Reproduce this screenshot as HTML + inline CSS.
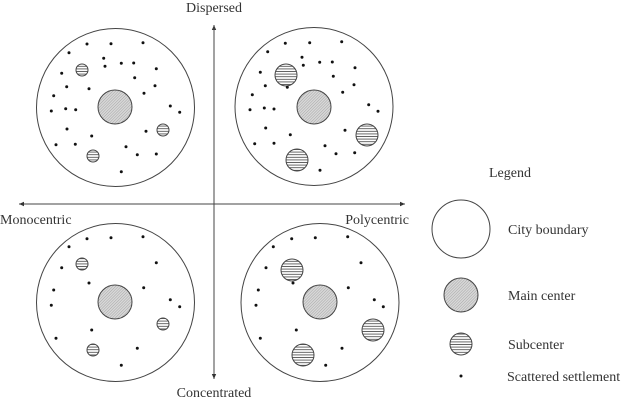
<!DOCTYPE html>
<html><head><meta charset="utf-8"><style>
html,body{margin:0;padding:0;background:#fff;}
svg{display:block;}
text{font-family:"Liberation Serif",serif;font-size:14px;fill:#333;}
</style></head><body>
<svg width="623" height="400" viewBox="0 0 623 400" xmlns="http://www.w3.org/2000/svg">
<defs>
<pattern id="hatch" width="2" height="2" patternUnits="userSpaceOnUse" patternTransform="rotate(45)">
<rect width="2" height="2" fill="#d8d8d8"/><line x1="0" y1="0" x2="0" y2="2" stroke="#999" stroke-width="0.8"/>
</pattern>
<pattern id="hz" width="3" height="2.6" patternUnits="userSpaceOnUse">
<rect width="3" height="2.6" fill="#fff"/><line x1="0" y1="1.3" x2="3" y2="1.3" stroke="#555" stroke-width="0.9"/>
</pattern>
<marker id="ar" markerWidth="6" markerHeight="6" refX="5" refY="3" orient="auto"><path d="M0,0.8 L5,3 L0,5.2 z" fill="#333"/></marker>
</defs>
<g stroke="#444" stroke-width="1" fill="none">
<line x1="214" y1="378" x2="214" y2="25" marker-end="url(#ar)"/>
<line x1="214" y1="27" x2="214" y2="379" marker-end="url(#ar)"/>
<line x1="214" y1="204" x2="19" y2="204" marker-end="url(#ar)"/>
<line x1="214" y1="204" x2="405" y2="204" marker-end="url(#ar)"/>
<circle cx="115.5" cy="107.5" r="79"/>
<circle cx="314" cy="106.5" r="79"/>
<circle cx="115.5" cy="302.5" r="79"/>
<circle cx="320" cy="302.5" r="79"/>
<circle cx="461" cy="229" r="29"/>
</g>
<g stroke="#444" stroke-width="1" fill="url(#hatch)">
<circle cx="115" cy="107" r="17"/><circle cx="314" cy="107" r="17"/>
<circle cx="115" cy="302" r="17"/><circle cx="320" cy="302" r="17"/>
<circle cx="461" cy="295" r="17"/>
</g>
<g stroke="#444" stroke-width="1" fill="url(#hz)">
<circle cx="82" cy="70" r="6"/><circle cx="163" cy="130" r="6"/><circle cx="93" cy="156" r="6"/>
<circle cx="286" cy="75" r="11"/><circle cx="367" cy="135" r="11"/><circle cx="297" cy="160" r="11"/>
<circle cx="82" cy="264" r="6"/><circle cx="163" cy="324" r="6"/><circle cx="93" cy="350" r="6"/>
<circle cx="292" cy="270" r="11"/><circle cx="373" cy="330" r="11"/><circle cx="303" cy="355" r="11"/>
<circle cx="461" cy="344" r="11"/>
</g>
<g fill="#111">
<circle cx="87" cy="44" r="1.5"/><circle cx="111" cy="43.7" r="1.5"/><circle cx="143" cy="42.7" r="1.5"/><circle cx="69" cy="52.7" r="1.5"/><circle cx="103.7" cy="58.3" r="1.5"/><circle cx="105" cy="66.3" r="1.5"/><circle cx="121.3" cy="63.3" r="1.5"/><circle cx="133.7" cy="63" r="1.5"/><circle cx="156.3" cy="68.7" r="1.5"/><circle cx="61.7" cy="73.3" r="1.5"/><circle cx="134.7" cy="77.7" r="1.5"/><circle cx="66.7" cy="86.7" r="1.5"/><circle cx="89" cy="88.7" r="1.5"/><circle cx="155" cy="85.7" r="1.5"/><circle cx="144" cy="93.3" r="1.5"/><circle cx="53.7" cy="95.7" r="1.5"/><circle cx="51.3" cy="111" r="1.5"/><circle cx="65.7" cy="108.7" r="1.5"/><circle cx="75.7" cy="109.7" r="1.5"/><circle cx="170.3" cy="106" r="1.5"/><circle cx="179.7" cy="112.3" r="1.5"/><circle cx="67" cy="129" r="1.5"/><circle cx="91.7" cy="136" r="1.5"/><circle cx="146" cy="131.3" r="1.5"/><circle cx="56" cy="144.7" r="1.5"/><circle cx="75.3" cy="144.3" r="1.5"/><circle cx="126" cy="146.7" r="1.5"/><circle cx="137.3" cy="154.7" r="1.5"/><circle cx="156.3" cy="154" r="1.5"/><circle cx="121.3" cy="171.7" r="1.5"/>
<circle cx="285.3" cy="43.3" r="1.5"/><circle cx="309.7" cy="42.7" r="1.5"/><circle cx="341.7" cy="41.7" r="1.5"/><circle cx="267.7" cy="51.7" r="1.5"/><circle cx="302" cy="57.3" r="1.5"/><circle cx="303.3" cy="65.3" r="1.5"/><circle cx="319.7" cy="62.3" r="1.5"/><circle cx="332.3" cy="62" r="1.5"/><circle cx="355" cy="67.7" r="1.5"/><circle cx="260.3" cy="72.3" r="1.5"/><circle cx="333.3" cy="76.3" r="1.5"/><circle cx="265.3" cy="85.7" r="1.5"/><circle cx="287.3" cy="87.3" r="1.5"/><circle cx="354" cy="84.7" r="1.5"/><circle cx="342.7" cy="92.3" r="1.5"/><circle cx="252.3" cy="94.7" r="1.5"/><circle cx="250" cy="109.7" r="1.5"/><circle cx="264.3" cy="108" r="1.5"/><circle cx="274" cy="109" r="1.5"/><circle cx="368.7" cy="104.7" r="1.5"/><circle cx="378" cy="111.3" r="1.5"/><circle cx="265.7" cy="128" r="1.5"/><circle cx="290.3" cy="134.7" r="1.5"/><circle cx="345" cy="130.3" r="1.5"/><circle cx="254.7" cy="143.7" r="1.5"/><circle cx="274" cy="143.3" r="1.5"/><circle cx="325" cy="145.7" r="1.5"/><circle cx="336" cy="153.7" r="1.5"/><circle cx="354.7" cy="152.7" r="1.5"/><circle cx="320" cy="170.3" r="1.5"/>
<circle cx="87" cy="238.7" r="1.5"/><circle cx="111" cy="237.7" r="1.5"/><circle cx="143" cy="236.7" r="1.5"/><circle cx="69" cy="246.7" r="1.5"/><circle cx="156.3" cy="262.7" r="1.5"/><circle cx="61.7" cy="267.7" r="1.5"/><circle cx="89" cy="283" r="1.5"/><circle cx="143.7" cy="287.7" r="1.5"/><circle cx="53.7" cy="290" r="1.5"/><circle cx="51.3" cy="305.3" r="1.5"/><circle cx="170.3" cy="299.7" r="1.5"/><circle cx="179.7" cy="306.7" r="1.5"/><circle cx="91.7" cy="330" r="1.5"/><circle cx="56" cy="338.3" r="1.5"/><circle cx="137.3" cy="348.3" r="1.5"/><circle cx="121.3" cy="365.3" r="1.5"/>
<circle cx="291.7" cy="238.7" r="1.5"/><circle cx="315.3" cy="237.7" r="1.5"/><circle cx="347.7" cy="236.7" r="1.5"/><circle cx="273.3" cy="246.7" r="1.5"/><circle cx="361" cy="262.7" r="1.5"/><circle cx="266" cy="267.7" r="1.5"/><circle cx="293" cy="283" r="1.5"/><circle cx="348.3" cy="287.7" r="1.5"/><circle cx="258.3" cy="290" r="1.5"/><circle cx="256" cy="305.3" r="1.5"/><circle cx="374.3" cy="299.7" r="1.5"/><circle cx="383.3" cy="306.7" r="1.5"/><circle cx="296.3" cy="330" r="1.5"/><circle cx="260.3" cy="338.3" r="1.5"/><circle cx="342" cy="348.3" r="1.5"/><circle cx="325.7" cy="365.3" r="1.5"/>
<circle cx="461" cy="376" r="1.5"/>
</g>
<text x="214" y="12" text-anchor="middle">Dispersed</text>
<text x="214" y="397" text-anchor="middle">Concentrated</text>
<text x="0" y="224">Monocentric</text>
<text x="409" y="224" text-anchor="end">Polycentric</text>
<text x="510" y="177" text-anchor="middle">Legend</text>
<text x="508" y="234">City boundary</text>
<text x="508" y="300">Main center</text>
<text x="508" y="349">Subcenter</text>
<text x="507" y="381">Scattered settlement</text>
</svg>
</body></html>
